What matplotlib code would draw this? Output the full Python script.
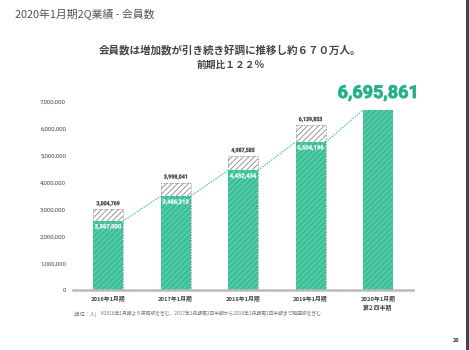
import matplotlib.pyplot as plt
import numpy as np
from matplotlib.textpath import TextPath
from matplotlib.patches import PathPatch
from matplotlib.font_manager import FontProperties
from matplotlib.transforms import Affine2D, IdentityTransform

plt.rcParams['font.family'] = ['Noto Sans CJK JP', 'DejaVu Sans']
plt.rcParams['hatch.linewidth'] = 0.6

# data
periods = ["2016年1月期", "2017年1月期", "2018年1月期", "2019年1月期", "2020年1月期\n第２四半期"]
totals = [3004769, 3998041, 4987585, 6139853, 6695861]
members = [2567000, 3486313, 4452434, 5504196, 6695861]
yticks = [0, 1000000, 2000000, 3000000, 4000000, 5000000, 6000000, 7000000]

W, H = 469, 350
fig = plt.figure(figsize=(W / 100, H / 100), dpi=100)
fig.patch.set_facecolor('white')
numfont = FontProperties(family='Roboto', weight='bold')


def narrow_text(px, py, s, h, w, color, ha='center', va='bottom', stroke=0.0):
    # condensed number text drawn as a path, sized in pixels
    tp = TextPath((0, 0), s, size=20, prop=numfont)
    bb = tp.get_extents()
    sx, sy = w / bb.width, h / bb.height
    ox = {'center': -w / 2, 'left': 0, 'right': -w}[ha] - bb.x0 * sx
    oy = {'bottom': 0, 'top': -h, 'center': -h / 2}[va] - bb.y0 * sy
    tr = Affine2D().scale(sx, sy).translate(px + ox, py + oy)
    fig.add_artist(PathPatch(tr.transform_path(tp), facecolor=color, edgecolor=color,
                             lw=stroke, transform=IdentityTransform(), zorder=10))


# axes placed by pixel box: left 73, right 413, bottom 290, top (7M) 102
ax = fig.add_axes([73 / W, (H - 290) / H, (413 - 73) / W, (290 - 102) / H])
ax.set_facecolor('none')
x = np.arange(len(periods))
bw = 30 / 67.5

green = '#3cbf97'
teal = '#22b08a'

# gray hatched total part (all but last)
ax.bar(x[:-1], totals[:-1], width=bw, color='white', edgecolor='#8a8a8a',
       hatch='//////', linewidth=0, zorder=2)
ax.bar(x[:-1], totals[:-1], width=bw, fill=False, edgecolor='#a0a0a0',
       linewidth=0.6, linestyle=(0, (2, 1.5)), zorder=3)
# green members part
ax.bar(x, members, width=bw, color=green, edgecolor='#6fd6b6',
       hatch='//////', linewidth=0, zorder=4)

# dotted connectors between green tops
for i in range(len(x) - 1):
    ax.plot([x[i] + bw / 2, x[i + 1] - bw / 2], [members[i], members[i + 1]],
            color='#4cc9a6', linestyle=(0, (1.2, 1.0)), linewidth=0.9, zorder=5)

ax.set_xlim(-35 / 67.5, 4 + 35 / 67.5)
ax.set_ylim(0, 7000000)
ax.set_yticks(yticks)
ax.set_yticklabels([f"{v:,}" for v in yticks], fontsize=4.3, color='#444444',
                   family=['Roboto', 'DejaVu Sans'])
ax.set_xticks(x)
ax.set_xticklabels(periods, fontsize=4.2, fontweight='bold', color='#444444',
                   linespacing=1.6)
ax.tick_params(axis='y', length=0, pad=5)
ax.tick_params(axis='x', length=0, pad=4)
for s in ['top', 'right', 'left']:
    ax.spines[s].set_visible(False)
ax.spines['bottom'].set_color('#bbbbbb')
ax.spines['bottom'].set_linewidth(1.8)
ax.spines['bottom'].set_zorder(7)

# value labels (positions from data coords)
for i in range(len(x) - 1):
    tx, ty = ax.transData.transform((x[i], totals[i]))
    narrow_text(tx, ty + 3, f"{totals[i]:,}", 5.2, 23, '#3a3a3a', 'center', 'bottom', 0.15)
    gx, gy = ax.transData.transform((x[i], members[i]))
    narrow_text(gx, gy - 3, f"{members[i]:,}", 5.4, 26, 'white', 'center', 'top', 0.15)
bx, by = ax.transData.transform((x[-1], members[-1]))
narrow_text(bx - 1, by + 9, f"{members[-1]:,}", 16, 77, teal, 'center', 'bottom', 0.6)

# page texts
fig.text(15 / W, 1 - 15 / H, "2020年1月期2Q業績 - 会員数", fontsize=7.8, color='#555555',
         ha='left', va='center')
fig.text(230 / W, 1 - 50 / H, "会員数は増加数が引き続き好調に推移し約６７０万人。", fontsize=7.6,
         fontweight='bold', color='#444444', ha='center', va='center')
fig.text(231 / W, 1 - 65 / H, "前期比１２２％", fontsize=7.0, fontweight='bold',
         color='#444444', ha='center', va='center')
fig.text(73 / W, 1 - 314 / H, "(単位：人)", fontsize=3.6, color='#777777',
         ha='left', va='center')
fig.text(99 / W, 1 - 314 / H,
         "※2016年1月期より英語版を含む、2017年1月期第2四半期から2018年1月期第2四半期まで韓国版を含む",
         fontsize=3.45, color='#777777', ha='left', va='center')
fig.text(456 / W, 1 - 341 / H, "20", fontsize=4, fontweight='bold', color='#333333',
         ha='center', va='center')

# dark right edge
fig.add_artist(plt.Rectangle((466 / W, 0), 3 / W, 1, transform=fig.transFigure,
                             color='#444444', linewidth=0))

fig.savefig('out.png', dpi=100)
